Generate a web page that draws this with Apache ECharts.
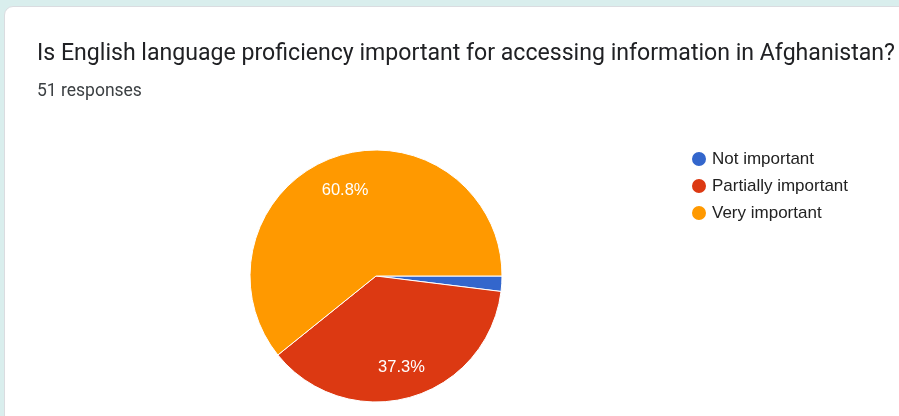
<!DOCTYPE html>
<html>
<head>
<meta charset="utf-8">
<script src="https://cdn.jsdelivr.net/npm/echarts@6/dist/echarts.min.js"></script>
<style>
  html, body { margin: 0; padding: 0; width: 899px; height: 416px; overflow: hidden; background: #d9eeed; }
  #card {
    position: absolute; left: 4px; top: 6px; width: 905px; height: 420px;
    background: #fff; border: 1px solid #dadce0; border-radius: 9px; box-sizing: border-box;
  }
  #chart { position: absolute; left: 0; top: 0; width: 899px; height: 416px; }
</style>
</head>
<body>
<div id="card"></div>
<div id="chart"></div>
<script>
// Survey answers
const questionTitle = 'Is English language proficiency important for accessing information in Afghanistan?';
const responseCount = 51;
const categories = ['Not important', 'Partially important', 'Very important'];
const counts = [1, 19, 31];
const colors = ['#3366cc', '#dc3912', '#ff9900'];

const pieData = categories.map((name, i) => ({ name, value: counts[i] }));
const total = counts.reduce((a, b) => a + b, 0);

const chart = echarts.init(document.getElementById('chart'));
chart.setOption({
  animation: false,
  color: colors,
  graphic: [
    {
      type: 'text', left: 37, top: 43,
      style: { text: questionTitle, fontFamily: 'Roboto', fontSize: 23.1, fill: '#202124' }
    },
    {
      type: 'text', left: 37, top: 83,
      style: { text: responseCount + ' responses', fontFamily: 'Roboto', fontSize: 17.5, fill: '#3c4043' }
    }
  ],
  legend: {
    orient: 'vertical',
    left: 690, top: 150,
    padding: 0,
    icon: 'circle',
    itemWidth: 16, itemHeight: 16,
    itemGap: 9,
    data: categories,
    textStyle: { fontFamily: 'Arial', fontSize: 17, color: '#222222' },
    selectedMode: false
  },
  series: [
    {
      // slices
      type: 'pie',
      center: [376, 276],
      radius: [0, 126],
      startAngle: 0,
      clockwise: true,
      data: pieData,
      itemStyle: { borderColor: '#ffffff', borderWidth: 1 },
      label: { show: false },
      labelLine: { show: false },
      emphasis: { disabled: true }
    },
    {
      // percentage labels, placed further out than the slice midpoint
      type: 'pie',
      center: [376, 276],
      radius: [78, 102],
      startAngle: 0,
      clockwise: true,
      silent: true,
      data: pieData,
      itemStyle: { color: 'rgba(0,0,0,0)' },
      label: {
        show: true,
        position: 'inside',
        offset: [0, 2],
        fontFamily: 'Arial',
        fontSize: 16.5,
        color: '#ffffff',
        formatter: p => {
          const pct = p.value / total * 100;
          return pct < 5 ? '' : pct.toFixed(1) + '%';
        }
      },
      labelLine: { show: false },
      emphasis: { disabled: true },
      legendHoverLink: false
    }
  ]
});
</script>
</body>
</html>
